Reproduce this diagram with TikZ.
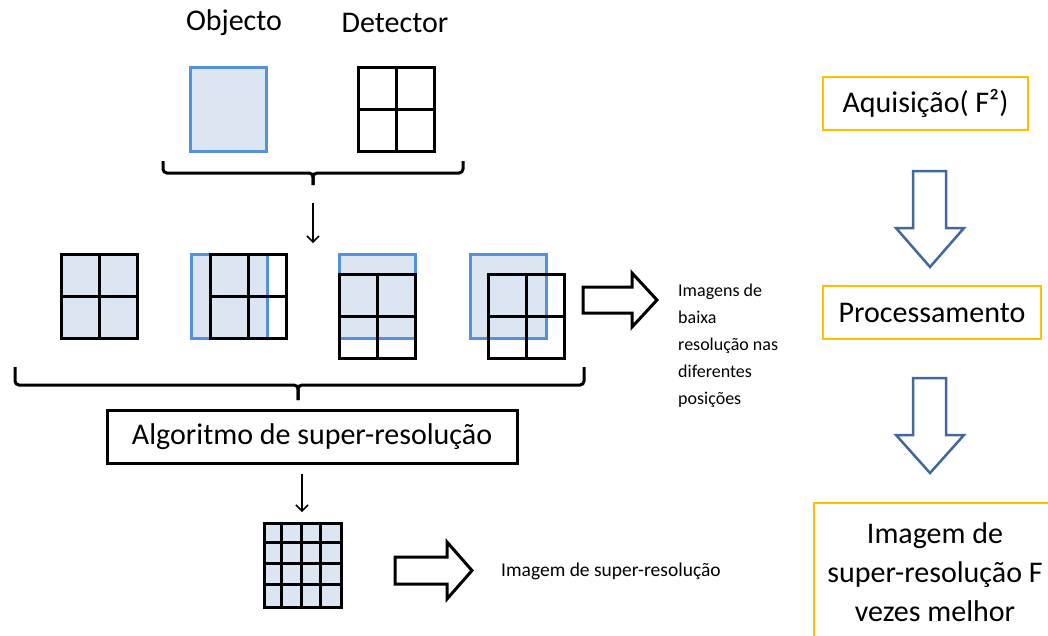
\documentclass[tikz,border=0pt]{standalone}
\usepackage{fontspec}
\setmainfont{Carlito}
\usetikzlibrary{arrows.meta}
\definecolor{objblue}{HTML}{5590DA}
\definecolor{objfill}{HTML}{DCE6F2}
\definecolor{boxyellow}{HTML}{FFC000}
\definecolor{arrblue}{HTML}{41689A}
\tikzset{
  bigtext/.style={font=\fontsize{30}{36}\selectfont, inner sep=0pt},
  smalltext/.style={font=\fontsize{18}{27}\selectfont, inner sep=0pt, align=left},
  objsq/.style={draw=objblue, fill=objfill, line width=3pt},
  detline/.style={draw=black, line width=3pt},
  bracepath/.style={draw=black, line width=3pt, rounded corners=4pt},
  thinarrow/.style={draw=black, line width=1.5pt, -{Straight Barb[length=6pt,width=12pt,line width=1.5pt]}},
  harrow/.style={draw=black, fill=white, line width=3pt, line join=miter},
  barrow/.style={draw=arrblue, fill=white, line width=2.5pt, line join=miter},
  ybox/.style={draw=boxyellow, line width=2pt, inner sep=0pt, font=\fontsize{30}{36}\selectfont},
  algobox/.style={draw=black, line width=3pt, inner sep=0pt, minimum width=410pt, minimum height=53pt, font=\fontsize{30}{36}\selectfont},
}
\newcommand{\dgrid}[2]{%
  \draw[detline] (#1,#2) rectangle ++(76,84);
  \draw[detline] (#1+38,#2) -- ++(0,84) (#1,#2+42) -- ++(76,0);}
\newcommand{\osq}[2]{%
  \draw[objsq] (#1,#2) rectangle ++(76,84);}
\begin{document}
\begin{tikzpicture}[x=1pt,y=-1pt]
\useasboundingbox (0,0) rectangle (1048,635);
\clip (0,0) rectangle (1048,635);

% top labels
\node[bigtext] (objt) at (234,23) {Objecto};
\node[bigtext] (dett) at (395,23) {Detector};

% object and detector
\osq{190}{67}
\dgrid{358}{67}

% top brace
\draw[bracepath] (163,161) |- (313,173) -- (313,185);
\draw[bracepath] (463,161) |- (313,173) -- (313,185);
\coordinate (a1s) at (313,203);
\coordinate (a1e) at (313,243);
\draw[thinarrow] (a1s) -- (a1e);

% row of low resolution images
\osq{61}{254}
\dgrid{61}{254}
\osq{191}{254}
\dgrid{210}{254}
\osq{339}{254}
\dgrid{339}{274}
\osq{470}{254}
\dgrid{488}{274}

% right hollow arrow
\draw[harrow] (583,287) -- (632,287) -- (632,273) -- (657,300) -- (632,327) -- (632,313) -- (583,313) -- cycle;
\node[smalltext, anchor=west] (lowres) at (678,346) {Imagens de\\baixa\\resolução nas\\diferentes\\posições};

% bottom brace
\draw[bracepath] (15,367) |- (298,385) -- (298,400);
\draw[bracepath] (584,367) |- (298,385) -- (298,400);

% algorithm box
\node[algobox] (algo) at (312,436.5) {Algoritmo de super-resolução};
\coordinate (a2e) at (302,512);
\draw[thinarrow] ([yshift=-9pt]algo.south -| a2e) -- (a2e);

% super-resolution image
\node[draw=black, fill=objfill, line width=3pt, minimum width=77pt, minimum height=84pt, inner sep=0pt] (srimg) at (302.5,565) {};
\foreach \i in {1,2,3} {
  \draw[detline] ([xshift=\i*19.25pt]srimg.north west) -- ([xshift=\i*19.25pt]srimg.south west);
  \draw[detline] ([yshift=-\i*21pt]srimg.north west) -- ([yshift=-\i*21pt]srimg.north east);
}
\draw[harrow] (395,557) -- (447,557) -- (447,542) -- (472,570.5) -- (447,599) -- (447,584) -- (395,584) -- cycle;
\node[smalltext, anchor=west, font=\fontsize{19.5}{24}\selectfont] (srtext) at (501,571) {Imagem de super-resolução};

% right column
\node[ybox, minimum width=205pt, minimum height=53pt] (aq) at (925.5,103.5) {Aquisição( F²)};
\draw[barrow] (913,171) -- (946,171) -- (946,228) -- (964,228) -- (930,267) -- (896,228) -- (913,228) -- cycle;
\node[ybox, minimum width=218pt, minimum height=53pt] (proc) at (932,312.5) {Processamento};
\draw[barrow] (913,378) -- (946,378) -- (946,435) -- (964,435) -- (930,473) -- (896,435) -- (913,435) -- cycle;
\draw[draw=boxyellow, line width=2pt] (1060,503) -- (814,503) -- (814,650);
\node[bigtext, align=center, font=\fontsize{30}{39}\selectfont] (imgsr) at (935,572) {Imagem de\\super-resolução F\\vezes melhor};
\end{tikzpicture}
\end{document}
